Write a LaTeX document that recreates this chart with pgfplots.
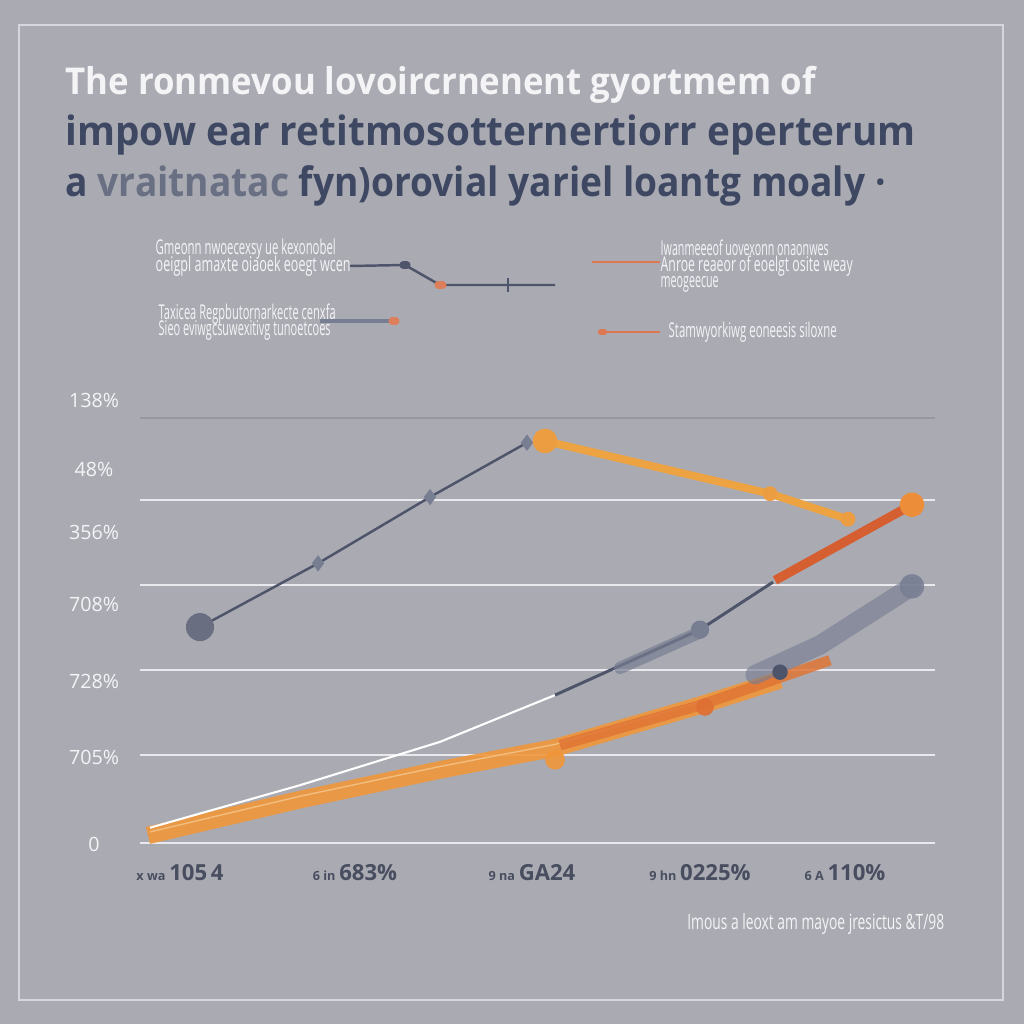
\documentclass[border=0pt]{standalone}
\usepackage{pgfplots}
\pgfplotsset{compat=1.18}
\usepackage{graphicx}
\usepackage{fontspec}
\setmainfont{Open Sans}
\definecolor{bg}{RGB}{170,171,178}
\definecolor{bordercol}{RGB}{214,214,220}
\definecolor{slate}{RGB}{78,84,105}
\definecolor{titledark}{RGB}{62,72,98}
\definecolor{titlemid}{RGB}{105,112,132}
\definecolor{lightt}{RGB}{244,244,247}
\definecolor{orangeA}{RGB}{238,163,66}
\definecolor{orangeB}{RGB}{240,150,58}
\definecolor{redor}{RGB}{214,95,50}
\definecolor{blurgray}{RGB}{120,126,146}
\definecolor{gridw}{RGB}{232,232,237}
\definecolor{gridtop}{RGB}{150,151,160}
\definecolor{xlab}{RGB}{72,77,95}
\begin{document}
\begin{tikzpicture}[x=1cm,y=1cm]
\fill[bg] (0,0) rectangle (10.24,10.24);
\useasboundingbox (0,0) rectangle (10.24,10.24);
\draw[bordercol, line width=0.6pt] (0.19,0.24) rectangle (10.03,9.99);
% title
\node[anchor=base west, inner sep=0, text=lightt] at (0.65,9.29)
  {\resizebox{7.5cm}{\height}{\fontsize{10.5}{12}\selectfont\bfseries The ronmevou lovoircrnenent gyortmem of}};
\node[anchor=base west, inner sep=0, text=titledark] at (0.65,8.78)
  {\resizebox{8.5cm}{\height}{\fontsize{11.5}{13}\selectfont\bfseries impow ear retitmosotternertiorr eperterum}};
\node[anchor=base west, inner sep=0, text=titledark] at (0.65,8.27)
  {\resizebox{8.2cm}{\height}{\fontsize{11.5}{13}\selectfont\bfseries a \textcolor{titlemid}{vraitnatac} fyn)orovial yariel loantg moaly ·}};
% legend texts
\node[anchor=base west, inner sep=0, text=lightt] at (1.55,7.69) {\resizebox{1.80cm}{\height}{\fontsize{5.8}{6}\selectfont Gmeonn nwoecexsy ue kexonobel}};
\node[anchor=base west, inner sep=0, text=lightt] at (1.55,7.52) {\resizebox{1.95cm}{\height}{\fontsize{5.8}{6}\selectfont oeigpl amaxte oiaoek eoegt wcen}};
\node[anchor=base west, inner sep=0, text=lightt] at (1.58,7.04) {\resizebox{1.77cm}{\height}{\fontsize{5.8}{6}\selectfont Taxicea Regpbutornarkecte cenxfa}};
\node[anchor=base west, inner sep=0, text=lightt] at (1.58,6.88) {\resizebox{1.72cm}{\height}{\fontsize{5.8}{6}\selectfont Sieo eviwgcsuwexitivg tunoetcoes}};
\node[anchor=base west, inner sep=0, text=lightt] at (6.60,7.68) {\resizebox{1.68cm}{\height}{\fontsize{5.8}{6}\selectfont Iwanmeeeof uovexonn onaonwes}};
\node[anchor=base west, inner sep=0, text=lightt] at (6.60,7.52) {\resizebox{1.92cm}{\height}{\fontsize{5.8}{6}\selectfont Anroe reaeor of eoelgt osite weay}};
\node[anchor=base west, inner sep=0, text=lightt] at (6.60,7.36) {\resizebox{0.58cm}{\height}{\fontsize{5.8}{6}\selectfont meogeecue}};
\node[anchor=base west, inner sep=0, text=lightt] at (6.68,6.87) {\resizebox{1.68cm}{\height}{\fontsize{5.8}{6}\selectfont Stamwyorkiwg eoneesis siloxne}};
% legend symbols
\draw[slate, line width=0.7pt] (3.50,7.58) -- (4.05,7.59) -- (4.40,7.39) -- (5.55,7.39);
\draw[slate, line width=0.7pt] (5.08,7.46) -- (5.08,7.32);
\draw[slate, line width=2pt, line cap=round] (4.03,7.59) -- (4.07,7.59);
\draw[redor!80, line width=2pt, line cap=round] (4.38,7.39) -- (4.43,7.39);
\draw[blurgray, line width=0.9pt] (3.20,7.03) -- (3.92,7.03);
\draw[redor!80, line width=2pt, line cap=round] (3.92,7.03) -- (3.96,7.03);
\draw[redor!85, line width=0.7pt] (5.92,7.62) -- (6.60,7.62);
\draw[redor!85, line width=0.7pt] (6.00,6.92) -- (6.60,6.92);
\draw[redor!85, line width=1.8pt, line cap=round] (6.01,6.92) -- (6.04,6.92);
% footnote
\node[anchor=base east, inner sep=0, text=lightt] at (9.45,0.94) {\resizebox{2.57cm}{\height}{\fontsize{6}{7}\selectfont Imous a leoxt am mayoe jresictus \&T/98}};
\begin{axis}[
  at={(1.40cm,1.725cm)}, anchor=south west,
  scale only axis, width=7.95cm, height=4.59cm,
  xmin=0, xmax=795, ymin=-0.1, ymax=5.3,
  clip=false,
  axis line style={draw=none},
  major tick length=0,
  xtick={40,215,392,560,705},
  xticklabels={
    {{\fontsize{3.6}{4}\selectfont x wa}\,105\,4},
    {{\fontsize{3.6}{4}\selectfont 6 in}\,683\%},
    {{\fontsize{3.6}{4}\selectfont 9 na}\,GA24},
    {{\fontsize{3.6}{4}\selectfont 9 hn}\,0225\%},
    {{\fontsize{3.6}{4}\selectfont 6 A}\,110\%}},
  xticklabel style={anchor=center, yshift=-0.215cm, font=\fontsize{6.3}{7}\selectfont\bfseries, text=xlab},
  ytick={0,1.035,2.035,3.035,4.035},
  yticklabels={},
  ymajorgrids,
  grid style={gridw, line width=0.5pt},
  extra y ticks={-0.02,1.01,1.9,2.81,3.65,4.39,5.21},
  extra y tick labels={0,705\%,728\%,708\%,356\%,48\%,138\%},
  extra y tick style={grid=none},
  yticklabel style={anchor=center, xshift=-0.46cm, font=\fontsize{5.6}{6}\selectfont, text=lightt},
  /pgf/number format/assume math mode=true,
]
% top gridline
\addplot[gridtop, line width=0.5pt] coordinates {(0,5) (795,5)};
% lower thick orange band
\addplot[orangeB, line width=5pt, opacity=0.9, line join=round] coordinates {(8,0.09) (160,0.51) (300,0.86) (415,1.12) (560,1.62) (640,1.92)};
\addplot[orangeA!60!white, line width=0.4pt, opacity=0.8] coordinates {(10,0.13) (160,0.55) (300,0.90) (415,1.16) (560,1.66)};
\addplot[redor!60!orangeB, line width=3pt, opacity=0.85] coordinates {(420,1.15) (560,1.62) (690,2.15)};
\addplot[only marks, mark=*, mark size=2.6pt, orangeB, opacity=0.9] coordinates {(415,0.98)};
\addplot[only marks, mark=*, mark size=2.3pt, redor!70!orangeB, opacity=0.9] coordinates {(565,1.60)};
% white thin line
\addplot[white, line width=0.6pt] coordinates {(10,0.18) (160,0.68) (300,1.19) (415,1.74)};
% blurred thick gray
\addplot[blurgray, line width=5.5pt, opacity=0.65, line cap=round] coordinates {(615,1.98) (680,2.33) (772,3.02)};
\addplot[only marks, mark=*, mark size=3.3pt, blurgray, opacity=0.8] coordinates {(772,3.02)};
\addplot[only marks, mark=*, mark size=2pt, slate] coordinates {(640,2.01)};
% dark thin line continuing
\addplot[slate, line width=0.85pt] coordinates {(415,1.74) (560,2.51) (633,3.07)};
\addplot[blurgray, line width=3.5pt, opacity=0.7, line cap=round] coordinates {(480,2.06) (560,2.48)};
\addplot[only marks, mark=*, mark size=2.4pt, blurgray] coordinates {(560,2.51)};
% red-orange rising
\addplot[redor, line width=2.6pt] coordinates {(635,3.09) (772,3.98)};
\addplot[only marks, mark=*, mark size=3.3pt, orangeB!85!redor] coordinates {(772,3.98)};
% dark slate upper line
\addplot[slate, line width=0.7pt] coordinates {(60,2.54) (178,3.29) (290,4.07) (387,4.71)};
\addplot[only marks, mark=*, mark size=3.8pt, slate!85!white] coordinates {(60,2.54)};
\addplot[only marks, mark=diamond*, mark size=2pt, blurgray] coordinates {(178,3.29) (290,4.07) (387,4.71)};
% orange falling
\addplot[orangeA, line width=2.2pt] coordinates {(405,4.73) (630,4.11) (708,3.81)};
\addplot[only marks, mark=*, mark size=3.3pt, orangeA!90!redor] coordinates {(405,4.73)};
\addplot[only marks, mark=*, mark size=1.9pt, orangeA!90!redor] coordinates {(630,4.11) (708,3.81)};
\end{axis}
\end{tikzpicture}
\end{document}
